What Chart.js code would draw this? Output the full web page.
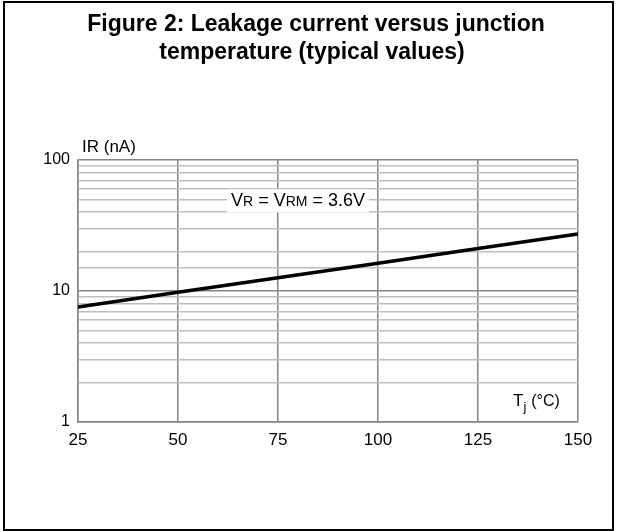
<!DOCTYPE html>
<html>
<head>
<meta charset="utf-8">
<script src="https://cdn.jsdelivr.net/npm/chart.js@4.4.1/dist/chart.umd.min.js"></script>
<style>
  body { margin: 0; background: #fff; }
  #wrap { position: relative; width: 617px; height: 531px; }
  #frame { position: absolute; left: 3px; top: 1px; width: 607px; height: 526px; border: 2px solid #000; pointer-events: none; }
</style>
</head>
<body>
<div id="wrap">
  <canvas id="leakChart" width="617" height="531"></canvas>
  <div id="frame"></div>
</div>
<script>
'use strict';

// data
var temps = [25, 50, 75, 100, 125, 150];           // Tj (°C)
var leakage = [7.55, 9.8, 12.6, 16.3, 21.1, 27.2];  // IR (nA)
var xTicks = [25, 50, 75, 100, 125, 150];
var yTicks = [1, 10, 100];

var titleLines = ['Figure 2: Leakage current versus junction', 'temperature (typical values)'];
var fontFam = '"Liberation Sans", Arial, sans-serif';

var points = [];
for (var i = 0; i < temps.length; i++) {
  points.push({ x: temps[i], y: leakage[i] });
}

function isDecade(v) {
  var l = Math.log10(v);
  return Math.abs(l - Math.round(l)) < 1e-9;
}

// draws the title, axis titles and the condition label
var labelsPlugin = {
  id: 'labelsPlugin',
  afterDraw: function(chart) {
    var ctx = chart.ctx;
    var area = chart.chartArea;
    ctx.save();
    ctx.fillStyle = '#000';
    ctx.textBaseline = 'alphabetic';

    // figure title
    ctx.font = 'bold 23px ' + fontFam;
    ctx.textAlign = 'center';
    ctx.fillText(titleLines[0], 316, 31);
    ctx.fillText(titleLines[1], 312, 59);

    // y axis title
    ctx.font = '17px ' + fontFam;
    ctx.textAlign = 'left';
    ctx.fillText('IR (nA)', area.left + 4, area.top - 8);

    // x axis title with subscript j
    var tx = area.right - 65, ty = area.bottom - 16;
    ctx.font = '17px ' + fontFam;
    ctx.fillText('T', tx, ty);
    var w = ctx.measureText('T').width;
    ctx.font = '13px ' + fontFam;
    ctx.fillText('j', tx + w, ty + 5);
    w += ctx.measureText('j').width + 5;
    ctx.font = '16px ' + fontFam;
    ctx.fillText('(°C)', tx + w, ty);

    // VR = VRM = 3.6V label with white box
    var parts = [['V', 18], ['R', 14], [' = V', 18], ['RM', 14], [' = 3.6V', 18]];
    var total = 0;
    parts.forEach(function(p) { ctx.font = p[1] + 'px ' + fontFam; total += ctx.measureText(p[0]).width; });
    var cx = chart.scales.x.getPixelForValue(80);
    var cy = chart.scales.y.getPixelForValue(50) + 7;
    var sx = cx - total / 2;
    ctx.fillStyle = '#fff';
    ctx.fillRect(sx - 4, cy - 17, total + 8, 23);
    ctx.fillStyle = '#000';
    parts.forEach(function(p) {
      ctx.font = p[1] + 'px ' + fontFam;
      ctx.fillText(p[0], sx, cy);
      sx += ctx.measureText(p[0]).width;
    });
    ctx.restore();
  }
};

var ctx = document.getElementById('leakChart').getContext('2d');
var leakChart = new Chart(ctx, {
  type: 'line',
  data: {
    datasets: [{
      data: points,
      borderColor: '#000',
      borderWidth: 3.5,
      pointRadius: 0,
      tension: 0,
      fill: false
    }]
  },
  options: {
    responsive: false,
    animation: false,
    layout: { padding: { left: 0, right: 39, top: 160, bottom: 0 } },
    plugins: {
      legend: { display: false },
      tooltip: { enabled: false },
      title: { display: false }
    },
    scales: {
      x: {
        type: 'linear',
        min: 25,
        max: 150,
        afterBuildTicks: function(scale) {
          scale.ticks = xTicks.map(function(v) { return { value: v }; });
        },
        afterFit: function(scale) { scale.height = 109; },
        grid: { color: '#858585', lineWidth: 1.5, drawTicks: false },
        border: { color: '#858585', width: 1.5 },
        ticks: { color: '#000', font: { family: fontFam, size: 17 }, padding: 8, maxRotation: 0 }
      },
      y: {
        type: 'logarithmic',
        min: yTicks[0],
        max: yTicks[yTicks.length - 1],
        afterFit: function(scale) { scale.width = 78; },
        grid: {
          drawTicks: false,
          color: function(c) { return isDecade(c.tick.value) ? '#858585' : '#bdbdbd'; },
          lineWidth: 1.5
        },
        border: { color: '#858585', width: 1.5 },
        ticks: {
          color: '#000',
          font: { family: fontFam, size: 16 },
          padding: 8,
          autoSkip: false,
          callback: function(v) { return yTicks.indexOf(v) >= 0 ? String(v) : ''; }
        }
      }
    }
  },
  plugins: [labelsPlugin]
});
</script>
</body>
</html>
